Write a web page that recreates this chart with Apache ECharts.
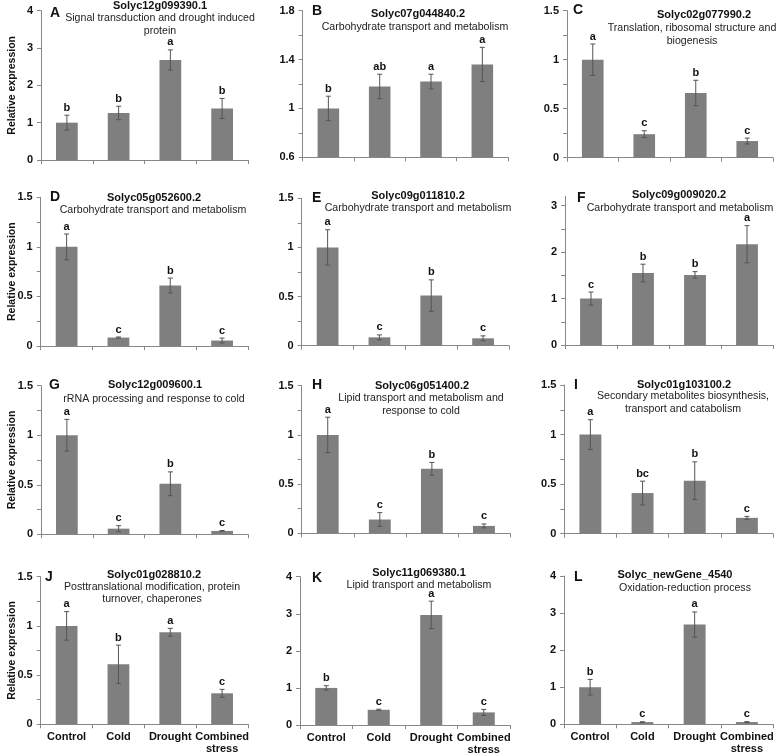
<!DOCTYPE html>
<html><head><meta charset="utf-8">
<script src="https://cdn.jsdelivr.net/npm/echarts@6/dist/echarts.min.js"></script>
<style>html,body{margin:0;padding:0;background:#fff}#c{width:778px;height:756px}</style>
</head><body><div id="c"></div>
<script>
const categories = ['Control', 'Cold', 'Drought', 'Combined\nstress'];
const panelLetters = ['A','B','C','D','E','F','G','H','I','J','K','L'];
const genes = ['Solyc12g099390.1','Solyc07g044840.2','Solyc02g077990.2','Solyc05g052600.2','Solyc09g011810.2','Solyc09g009020.2','Solyc12g009600.1','Solyc06g051400.2','Solyc01g103100.2','Solyc01g028810.2','Solyc11g069380.1','Solyc_newGene_4540'];
const descriptions = [
  'Signal transduction and drought induced\nprotein',
  'Carbohydrate transport and metabolism',
  'Translation, ribosomal structure and\nbiogenesis',
  'Carbohydrate transport and metabolism',
  'Carbohydrate transport and metabolism',
  'Carbohydrate transport and metabolism',
  'rRNA processing and response to cold',
  'Lipid transport and metabolism and\nresponse to cold',
  'Secondary metabolites biosynthesis,\ntransport and catabolism',
  'Posttranslational modification, protein\nturnover, chaperones',
  'Lipid transport and metabolism',
  'Oxidation-reduction process'
];
// mean relative expression per panel (Control, Cold, Drought, Combined stress)
const meanA = [1.00, 1.26, 2.68, 1.38];
const meanB = [1.00, 1.18, 1.22, 1.36];
const meanC = [1.00, 0.24, 0.66, 0.17];
const meanD = [1.00, 0.085, 0.61, 0.055];
const meanE = [1.00, 0.085, 0.51, 0.075];
const meanF = [1.00, 1.55, 1.51, 2.17];
const meanG = [1.00, 0.057, 0.51, 0.034];
const meanH = [1.00, 0.14, 0.655, 0.075];
const meanI = [1.00, 0.41, 0.535, 0.16];
const meanJ = [1.00, 0.61, 0.935, 0.315];
const meanK = [1.00, 0.41, 2.97, 0.34];
const meanL = [1.00, 0.06, 2.69, 0.06];
// error bar half-lengths
const errA = [0.20, 0.18, 0.27, 0.27];
const errB = [0.10, 0.10, 0.06, 0.14];
const errC = [0.16, 0.035, 0.13, 0.03];
const errD = [0.13, 0.006, 0.075, 0.025];
const errE = [0.18, 0.025, 0.16, 0.025];
const errF = [0.14, 0.19, 0.07, 0.40];
const errG = [0.16, 0.03, 0.12, 0.004];
const errH = [0.18, 0.07, 0.065, 0.02];
const errI = [0.15, 0.12, 0.19, 0.015];
const errJ = [0.145, 0.195, 0.04, 0.04];
const errK = [0.06, 0.015, 0.37, 0.08];
const errL = [0.21, 0.01, 0.34, 0.012];
// significance letters
const sigA = ['b','b','a','b'];
const sigB = ['b','ab','a','a'];
const sigC = ['a','c','b','c'];
const sigD = ['a','c','b','c'];
const sigE = ['a','c','b','c'];
const sigF = ['c','b','b','a'];
const sigG = ['a','c','b','c'];
const sigH = ['a','c','b','c'];
const sigI = ['a','bc','b','c'];
const sigJ = ['a','b','a','c'];
const sigK = ['b','c','a','c'];
const sigL = ['b','c','a','c'];
// y-axis tick labels and tick marks per panel
const yLabels = [
  [0,1,2,3,4],[0.6,1,1.4,1.8],[0,0.5,1,1.5],
  [0,0.5,1,1.5],[0,0.5,1,1.5],[0,1,2,3],
  [0,0.5,1,1.5],[0,0.5,1,1.5],[0,0.5,1,1.5],
  [0,0.5,1,1.5],[0,1,2,3,4],[0,1,2,3,4]
];
const yTicks = [
  [0,1,2,3,4],[0.6,0.8,1,1.2,1.4,1.6,1.8],[0,0.25,0.5,0.75,1,1.25,1.5],
  [0,0.25,0.5,0.75,1,1.25,1.5],[0,0.25,0.5,0.75,1,1.25,1.5],[0,0.5,1,1.5,2,2.5,3],
  [0,0.25,0.5,0.75,1,1.25,1.5],[0,0.25,0.5,0.75,1,1.25,1.5],[0,0.25,0.5,0.75,1,1.25,1.5],
  [0,0.25,0.5,0.75,1,1.25,1.5],[0,1,2,3,4],[0,1,2,3,4]
];
const yMin = [0,0.6,0,0,0,0,0,0,0,0,0,0];
const yMax = [4,1.8,1.5,1.5,1.5,3.2,1.5,1.5,1.5,1.5,4,4];

const means = [meanA,meanB,meanC,meanD,meanE,meanF,meanG,meanH,meanI,meanJ,meanK,meanL];
const errs = [errA,errB,errC,errD,errE,errF,errG,errH,errI,errJ,errK,errL];
const sigs = [sigA,sigB,sigC,sigD,sigE,sigF,sigG,sigH,sigI,sigJ,sigK,sigL];

// layout: [left, right, top, bottom] in px
const boxes = [
  [41,248,10.7,160],[302.7,508,10.7,157.3],[567,773,10.7,157.7],
  [40.7,248,197.3,346],[301.7,509,198.3,345.7],[565,773,196.4,345],
  [41,248,385.7,534.3],[301.7,510,385.7,533.3],[564.3,773,385,533.7],
  [40.7,248,576.7,724.3],[300,510,576.7,725],[564,773,576,724.3]
];
// title positions: [geneX, geneY, descX, descY, letterX, letterY]
const titlePos = [
  [160,6,160,18.5,50,13],[418,14,415,27,312,11],[704,15,692,28,573,10],
  [154,198.3,153,210,50,197],[418,196,418,208,312,197.7],[679,195,680,207.7,577,197.7],
  [155,385,154,399,49,385],[422,385.7,421,398,312,385],[684,385,683,396,574,385],
  [154,575,152,586.7,45,577],[419,573,419,585,312,578],[675,575,685,588,574,577]
];

const FONT = '"Liberation Sans", Arial, sans-serif';
const grid = [], xAxis = [], yAxis = [], series = [], graphic = [];
for (let i = 0; i < 12; i++) {
  const b = boxes[i];
  grid.push({left: b[0], top: b[2], width: b[1]-b[0], height: b[3]-b[2]});
  const bottomRow = i >= 9;
  xAxis.push({
    type: 'category', gridIndex: i, data: categories,
    axisLine: {lineStyle: {color: '#888', width: 1}},
    axisTick: {show: true, length: 4, lineStyle: {color: '#888'}},
    axisLabel: {show: bottomRow, interval: 0, margin: 7, color: '#111', fontFamily: FONT, fontWeight: 'bold', fontSize: 11, lineHeight: 12}
  });
  yAxis.push({
    type: 'value', gridIndex: i, min: yMin[i], max: yMax[i],
    name: (i % 3 === 0) ? 'Relative expression' : '',
    nameLocation: 'middle', nameGap: 29, nameRotate: 90, nameMoveOverlap: false,
    nameTextStyle: {color: '#111', fontFamily: FONT, fontWeight: 'bold', fontSize: 10.5, verticalAlign: 'middle'},
    axisLine: {show: true, lineStyle: {color: '#888', width: 1}},
    axisTick: {show: true, length: 4, customValues: yTicks[i], lineStyle: {color: '#888'}},
    axisLabel: {customValues: yLabels[i], margin: 8, color: '#111', fontFamily: FONT, fontWeight: 'bold', fontSize: 11},
    splitLine: {show: false}
  });
  series.push({
    type: 'bar', xAxisIndex: i, yAxisIndex: i, data: means[i], barWidth: '42%',
    itemStyle: {color: '#7f7f7f'}, silent: true, animation: false
  });
  const m = means[i], e = errs[i], s = sigs[i];
  series.push({
    type: 'custom', xAxisIndex: i, yAxisIndex: i, animation: false, silent: true, z: 5,
    data: m.map((v, k) => [k, v, e[k]]),
    encode: {x: 0, y: 1},
    renderItem: function (params, api) {
      const k = api.value(0), v = api.value(1), er = api.value(2);
      const top = api.coord([k, v + er]);
      const bot = api.coord([k, v - er]);
      const c = '#555';
      const hw = 2.5;
      return {
        type: 'group',
        children: [
          {type: 'line', shape: {x1: top[0], y1: top[1], x2: bot[0], y2: bot[1]}, style: {stroke: c, lineWidth: 1}},
          {type: 'line', shape: {x1: top[0]-hw, y1: top[1], x2: top[0]+hw, y2: top[1]}, style: {stroke: c, lineWidth: 1}},
          {type: 'line', shape: {x1: bot[0]-hw, y1: bot[1], x2: bot[0]+hw, y2: bot[1]}, style: {stroke: c, lineWidth: 1}},
          {type: 'text', style: {x: top[0], y: top[1] - 2, text: s[params.dataIndex], textAlign: 'center', textVerticalAlign: 'bottom', font: 'bold 11px ' + FONT, fill: '#111'}}
        ]
      };
    }
  });
  const t = titlePos[i];
  graphic.push({type: 'text', x: t[0], y: t[1], style: {text: genes[i], textAlign: 'center', textVerticalAlign: 'middle', font: 'bold 11px ' + FONT, fill: '#111'}});
  graphic.push({type: 'text', x: t[2], y: t[3] - 6.3, style: {text: descriptions[i], textAlign: 'center', textVerticalAlign: 'top', font: '10.6px ' + FONT, lineHeight: 12.6, fill: '#222'}});
  graphic.push({type: 'text', x: t[4], y: t[5], style: {text: panelLetters[i], textAlign: 'left', textVerticalAlign: 'middle', font: 'bold 14px ' + FONT, fill: '#111'}});
}

const chart = echarts.init(document.getElementById('c'), null, {renderer: 'canvas'});
chart.setOption({animation: false, grid, xAxis, yAxis, series, graphic});
</script>
</body></html>
